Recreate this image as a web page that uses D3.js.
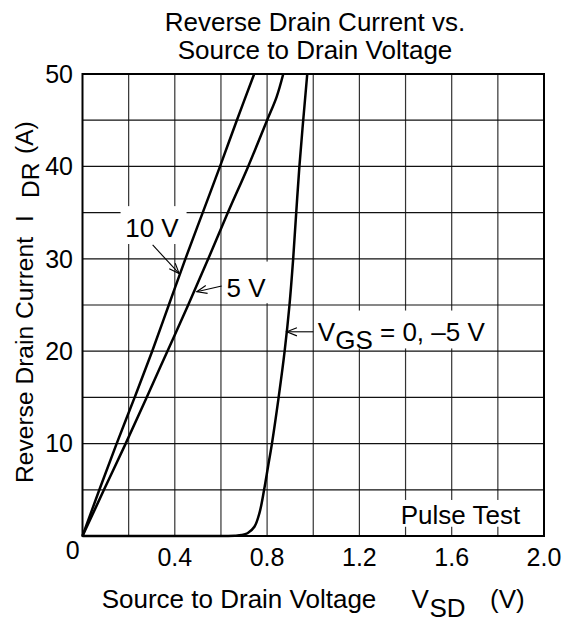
<!DOCTYPE html>
<html><head><meta charset="utf-8">
<script src="https://cdn.jsdelivr.net/npm/d3@7"></script>
<style>
body{margin:0;background:#fff;}
text{font-family:"Liberation Sans",Arial,Helvetica,sans-serif;fill:#000;}
</style></head>
<body><svg id="c" width="564" height="622"></svg>
<script>
// ---- data ----
const titleLines = ["Reverse Drain Current vs.", "Source to Drain Voltage"];
const xTickValues = [0.4, 0.8, 1.2, 1.6, 2.0];
const xTickLabels = ["0.4", "0.8", "1.2", "1.6", "2.0"];
const yTickValues = [10, 20, 30, 40, 50];
const yTickLabels = ["10", "20", "30", "40", "50"];
// VGS = 10 V
const vsd10 = [0, 0.073, 0.148, 0.226, 0.302, 0.374, 0.446, 0.521, 0.596, 0.669, 0.744];
const idr10 = [0, 5, 10, 15, 20, 25, 30, 35, 40, 45, 50];
// VGS = 5 V
const vsd5 = [0, 0.093, 0.187, 0.278, 0.368, 0.458, 0.545, 0.630, 0.718, 0.800, 0.841, 0.870];
const idr5 = [0, 5, 10, 15, 20, 25, 30, 35, 40, 45, 47.5, 50];
// VGS = 0, -5 V
const vsd0 = [0, 0.55, 0.62, 0.66, 0.69, 0.715, 0.745, 0.767, 0.787, 0.804, 0.821, 0.85, 0.876, 0.897, 0.913, 0.94, 0.974];
const idr0 = [0, 0, 0.01, 0.03, 0.1, 0.3, 1, 2.5, 5, 7.5, 10, 15, 20, 25, 30, 40, 50];

const svg = d3.select("#c");
const x = d3.scaleLinear().domain([0, 2]).range([82.5, 544]);
const y = d3.scaleLinear().domain([0, 50]).range([536, 74]);

// grid
const grid = svg.append("g").attr("stroke-width", 1.2);
grid.selectAll("line.v").data(d3.range(0.2, 1.99, 0.2)).join("line")
  .attr("stroke", "#333")
  .attr("x1", d => x(d)).attr("x2", d => x(d)).attr("y1", y(0)).attr("y2", y(50));
grid.selectAll("line.h").data(d3.range(5, 50, 5)).join("line")
  .attr("stroke", "#111")
  .attr("y1", d => y(d)).attr("y2", d => y(d)).attr("x1", x(0)).attr("x2", x(2));

// label backgrounds (data coordinates)
const boxes = [
  [0.165, 0.451, 35.7, 31.6],
  [0.605, 0.82, 29.7, 25.2],
  [1.012, 1.78, 24.4, 20.3],
  [1.354, 1.93, 3.9, 1.0]
];
svg.append("g").selectAll("rect").data(boxes).join("rect")
  .attr("x", d => x(d[0])).attr("width", d => x(d[1]) - x(d[0]))
  .attr("y", d => y(d[2])).attr("height", d => y(d[3]) - y(d[2]))
  .attr("fill", "#fff");

// frame
svg.append("rect").attr("x", x(0)).attr("y", y(50)).attr("width", x(2) - x(0)).attr("height", y(0) - y(50))
  .attr("fill", "none").attr("stroke", "#000").attr("stroke-width", 2);

// curves
const line = d3.line().x(d => x(d[0])).y(d => y(d[1])).curve(d3.curveCatmullRom.alpha(0.5));
[[vsd10, idr10], [vsd5, idr5], [vsd0, idr0]].forEach(([vs, is]) => {
  svg.append("path").datum(vs.map((v, i) => [v, is[i]]))
    .attr("d", line).attr("fill", "none").attr("stroke", "#000").attr("stroke-width", 2.5)
    .attr("stroke-linejoin", "round");
});

// arrows (data coords: tail -> tip)
const arrows = [
  [0.304, 31.5, 0.419, 28.4],
  [0.603, 27.06, 0.495, 26.44],
  [1.0, 22.1, 0.885, 22.1]
];
const ag = svg.append("g").attr("stroke", "#000").attr("stroke-width", 1.1).attr("fill", "none");
arrows.forEach(a => {
  const x1 = x(a[0]), y1 = y(a[1]), x2 = x(a[2]), y2 = y(a[3]);
  const ang = Math.atan2(y2 - y1, x2 - x1);
  const L = 11, sp = 0.38;
  ag.append("line").attr("x1", x1).attr("y1", y1).attr("x2", x2).attr("y2", y2);
  ag.append("path").attr("d",
    `M${x2 - L * Math.cos(ang - sp)},${y2 - L * Math.sin(ang - sp)}L${x2},${y2}L${x2 - L * Math.cos(ang + sp)},${y2 - L * Math.sin(ang + sp)}`);
});

// annotation texts
svg.append("text").attr("x", x(0.301)).attr("y", 236.5)
  .attr("text-anchor", "middle").attr("font-size", 26).text("10 V");
svg.append("text").attr("x", 226.5).attr("y", 296.5)
  .attr("font-size", 26).text("5 V");
const vg = svg.append("text").attr("x", x(1.02)).attr("y", y(22.1)).attr("dy", "0.35em").attr("font-size", 26);
vg.append("tspan").text("V");
vg.append("tspan").attr("dy", 8).text("GS");
vg.append("tspan").attr("dy", -8).text(" = 0, \u20135 V");
svg.append("text").attr("x", x(1.638)).attr("y", y(2.27)).attr("dy", "0.35em")
  .attr("text-anchor", "middle").attr("font-size", 26).text("Pulse Test");

// ticks
svg.append("g").selectAll("text").data(xTickValues).join("text")
  .attr("x", d => x(d)).attr("y", 566).attr("text-anchor", "middle").attr("font-size", 25)
  .text((d, i) => xTickLabels[i]);
svg.append("g").selectAll("text").data(yTickValues).join("text")
  .attr("x", 73).attr("y", d => y(d)).attr("dy", "0.35em").attr("text-anchor", "end").attr("font-size", 25)
  .text((d, i) => yTickLabels[i]);
svg.append("text").attr("x", 72.7).attr("y", 559).attr("text-anchor", "middle").attr("font-size", 25).text("0");

// title
svg.append("g").selectAll("text").data(titleLines).join("text")
  .attr("x", 315).attr("y", (d, i) => 31 + i * 27.5).attr("text-anchor", "middle").attr("font-size", 26)
  .text(d => d);

// x axis title
svg.append("text").attr("x", 101.7).attr("y", 608).attr("font-size", 26).text("Source to Drain Voltage");
svg.append("text").attr("x", 411.5).attr("y", 608).attr("font-size", 26).text("V");
svg.append("text").attr("x", 429.5).attr("y", 617).attr("font-size", 26).text("SD");
svg.append("text").attr("x", 490).attr("y", 608).attr("font-size", 26).text("(V)");

// y axis title (pieces, reading bottom to top)
const yParts = [
  ["Reverse Drain Current", 483, 33],
  ["I", 222, 33],
  ["DR", 198, 38.5],
  ["(A)", 154, 33]
];
svg.append("g").selectAll("text").data(yParts).join("text")
  .attr("transform", d => `translate(${d[2]},${d[1]}) rotate(-90)`)
  .attr("font-size", 24.6).text(d => d[0]);
</script></body></html>
